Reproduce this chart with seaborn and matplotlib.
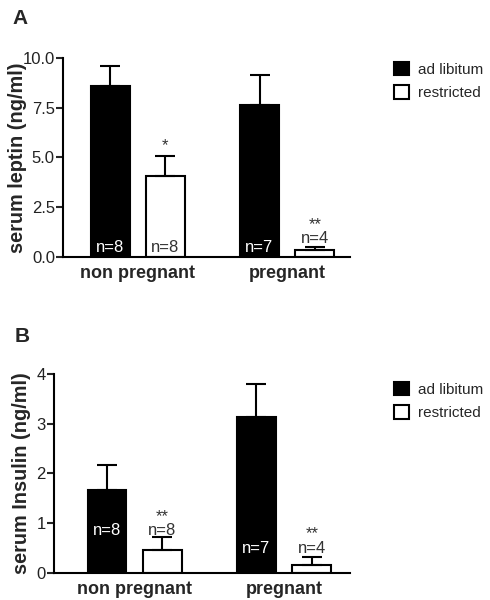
import numpy as np
import pandas as pd
import matplotlib
matplotlib.use("Agg")
import matplotlib.pyplot as plt
from matplotlib.patches import Patch
import seaborn as sns

sns.set_style("white")
plt.rcParams['font.family'] = ['Liberation Sans', 'DejaVu Sans']

groups = ["non pregnant", "pregnant"]
diets = ["ad libitum", "restricted"]

# order: np-adlib, np-restricted, p-adlib, p-restricted
leptin_mean = [8.6, 4.05, 7.65, 0.35]
leptin_sem = [1.0, 1.05, 1.5, 0.15]
insulin_mean = [1.67, 0.47, 3.14, 0.17]
insulin_sem = [0.5, 0.25, 0.66, 0.16]
n_labels = ["n=8", "n=8", "n=7", "n=4"]
leptin_stars = ["", "*", "", "**"]
insulin_stars = ["", "**", "", "**"]
# y positions (data units) for the n labels and the stars
leptin_n_y = [0.45, 0.45, 0.45, 0.9]
leptin_star_y = [None, 5.6, None, 1.6]
insulin_n_y = [0.86, 0.86, 0.5, 0.5]
insulin_star_y = [None, 1.14, None, 0.8]

colors = {"ad libitum": "black", "restricted": "white"}
grey = "#333333"


def panel(ax, means, sems, n_y, stars, star_y, ylim, yticks, yticklabels, ylabel):
    df = pd.DataFrame({
        "group": [g for g in groups for _ in diets],
        "diet": diets * 2,
        "value": means,
    })
    sns.barplot(data=df, x="group", y="value", hue="diet", order=groups,
                hue_order=diets, palette=colors, width=0.74, gap=0.3,
                edgecolor="black", linewidth=1.5, errorbar=None, ax=ax,
                legend=False)
    bars = ax.patches[:4]
    order = [0, 2, 1, 3]  # patches come hue-major
    for i, pi in enumerate(order):
        b = bars[pi]
        xc = b.get_x() + b.get_width() / 2
        top = b.get_height()
        ax.errorbar(xc, top, yerr=[[0], [sems[i]]], color="black",
                    capsize=7, capthick=1.5, elinewidth=1.5, zorder=1)
        tc = "white" if diets[i % 2] == "ad libitum" else grey
        ax.text(xc, n_y[i], n_labels[i], ha="center", va="center",
                fontsize=12, color=tc, zorder=5)
        if stars[i]:
            ax.text(xc, star_y[i], stars[i], ha="center", va="center",
                    fontsize=12, color=grey)
    ax.set_ylim(*ylim)
    ax.set_yticks(yticks)
    ax.set_yticklabels(yticklabels, fontsize=12, color="#222222")
    ax.set_ylabel(ylabel, fontsize=14.3, fontweight="bold")
    ax.set_xlabel("")
    ax.set_xticks([0, 1])
    ax.set_xticklabels(groups, fontsize=13, fontweight="bold")
    sns.despine(ax=ax)
    for s in ["left", "bottom"]:
        ax.spines[s].set_linewidth(1.5)
        ax.spines[s].set_color("black")
    ax.tick_params(axis="y", direction="out", length=5, width=1.5, left=True, pad=1)
    ax.tick_params(axis="x", length=0, pad=6)


fig = plt.figure(figsize=(4.9, 6), dpi=100)
axA = fig.add_axes([0.129, 0.572, 0.585, 0.331])
axB = fig.add_axes([0.110, 0.045, 0.604, 0.332])

panel(axA, leptin_mean, leptin_sem, leptin_n_y, leptin_stars, leptin_star_y,
      (0, 10), [0, 2.5, 5, 7.5, 10], ["0.0", "2.5", "5.0", "7.5", "10.0"],
      "serum leptin (ng/ml)")
axA.set_xlim(-0.5, 1.42)
axA.yaxis.set_label_coords(-0.125, 0.5)

panel(axB, insulin_mean, insulin_sem, insulin_n_y, insulin_stars, insulin_star_y,
      (0, 4), [0, 1, 2, 3, 4], ["0", "1", "2", "3", "4"],
      "serum Insulin (ng/ml)")
axB.set_xlim(-0.54, 1.44)
axB.yaxis.set_label_coords(-0.078, 0.5)

for yy in [0.92, 0.387]:
    handles = [Patch(facecolor=colors[d], edgecolor="black", linewidth=1.5, label=d)
               for d in diets]
    fig.legend(handles=handles, loc="upper left", bbox_to_anchor=(0.775, yy),
               frameon=False, fontsize=11, handlelength=1.0, handleheight=1.0,
               handletextpad=0.6, labelspacing=0.55)

fig.text(0.025, 0.985, "A", fontsize=15, fontweight="bold", va="top")
fig.text(0.03, 0.455, "B", fontsize=15, fontweight="bold", va="top")

fig.savefig("out.png", dpi=100)
